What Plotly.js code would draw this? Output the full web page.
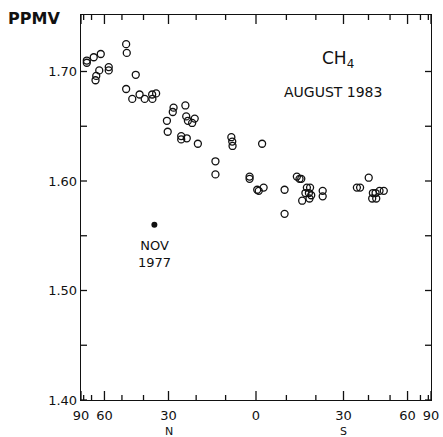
<!DOCTYPE html>
<html>
<head>
<meta charset="utf-8">
<script src="https://cdn.plot.ly/plotly-3.0.1.min.js"></script>
<style>
  html, body { margin: 0; padding: 0; background: #fff; }
  #chart { width: 443px; height: 437px; }
</style>
</head>
<body>
<div id="chart"></div>
<script>
// Methane mixing ratio by latitude, August 1983 (N positive, S negative)
const latitude = [75.2, 75.2, 68.0, 62.5, 63.6, 65.9, 66.5, 57.3, 57.3, 47.9,
  47.6, 43.4, 47.9, 45.0, 41.7, 39.5, 36.4, 34.8, 36.3, 30.6,
  30.3, 28.1, 28.4, 23.8, 23.5, 22.9, 20.5, 21.4, 25.3, 25.3,
  23.3, 19.4, 13.4, 13.4, 8.1, 7.8, 7.7, -2.0, 2.1, 2.1,
  -0.4, -0.9, -2.5, -9.4, -9.4, -13.5, -14.4, -15.0, -16.9, -18.0,
  -16.4, -17.6, -18.4, -15.3, -17.8, -22.4, -22.4, -35.2, -36.5, -40.1,
  -41.9, -43.1, -41.6, -43.4, -44.9, -46.9];
const ppmv = [1.710, 1.708, 1.713, 1.716, 1.701, 1.696, 1.692, 1.704, 1.701, 1.725,
  1.717, 1.697, 1.684, 1.675, 1.679, 1.675, 1.679, 1.680, 1.675, 1.655,
  1.645, 1.667, 1.663, 1.669, 1.659, 1.655, 1.657, 1.653, 1.641, 1.638,
  1.639, 1.634, 1.618, 1.606, 1.640, 1.636, 1.632, 1.634, 1.604, 1.602,
  1.592, 1.591, 1.594, 1.592, 1.570, 1.604, 1.602, 1.602, 1.594, 1.594,
  1.589, 1.589, 1.587, 1.582, 1.584, 1.591, 1.586, 1.594, 1.594, 1.603,
  1.589, 1.589, 1.584, 1.584, 1.591, 1.591];

// Earlier single measurement, November 1977
const latitude1977 = [35.5];
const ppmv1977 = [1.560];

// Latitude ticks (axis is linear in sine of latitude)
const majorLat = [90, 60, 30, 0, -30, -60, -90];
const majorLabels = ['90', '60', '30', '0', '30', '60', '90'];
const minorLat = [80, 70, 50, 40, 20, 10, -10, -20, -40, -50, -70, -80];
const ppmvTicks = [1.40, 1.50, 1.60, 1.70];
const ppmvMinor = [1.45, 1.55, 1.65];

const toX = lat => Math.sin(lat * Math.PI / 180);
const ink = '#111111';
const fam = 'DejaVu Sans, sans-serif';
const font = { family: fam, size: 13, color: ink };

const traces = [
  {
    x: latitude.map(toX), y: ppmv, type: 'scatter', mode: 'markers',
    marker: { symbol: 'circle-open', size: 7, color: ink, line: { width: 1.3, color: ink } },
    hoverinfo: 'skip'
  },
  {
    x: latitude1977.map(toX), y: ppmv1977, type: 'scatter', mode: 'markers',
    marker: { symbol: 'circle', size: 6, color: ink },
    hoverinfo: 'skip'
  }
];

// Inward tick marks on all four sides of the frame, sized in pixels
const tickLine = { color: ink, width: 1.3 };
function xTicks(lats, len) {
  const out = [];
  lats.forEach(lat => {
    const x = toX(lat);
    out.push({ type: 'line', xref: 'x', yref: 'paper', ysizemode: 'pixel', yanchor: 0,
      x0: x, x1: x, y0: 0, y1: len, line: tickLine });
    out.push({ type: 'line', xref: 'x', yref: 'paper', ysizemode: 'pixel', yanchor: 1,
      x0: x, x1: x, y0: 0, y1: -len, line: tickLine });
  });
  return out;
}
function yTicks(vals, len) {
  const out = [];
  vals.forEach(v => {
    out.push({ type: 'line', xref: 'paper', yref: 'y', xsizemode: 'pixel', xanchor: 0,
      x0: 0, x1: len, y0: v, y1: v, line: tickLine });
    out.push({ type: 'line', xref: 'paper', yref: 'y', xsizemode: 'pixel', xanchor: 1,
      x0: 0, x1: -len, y0: v, y1: v, line: tickLine });
  });
  return out;
}
const shapes = [].concat(
  xTicks(majorLat, 9), xTicks(minorLat, 5),
  yTicks(ppmvTicks, 6), yTicks(ppmvMinor, 6)
);

const layout = {
  width: 443, height: 437,
  margin: { l: 81, r: 12, t: 15, b: 37 },
  paper_bgcolor: '#ffffff', plot_bgcolor: '#ffffff',
  showlegend: false,
  font: font,
  xaxis: {
    range: [1, -1], showgrid: false, zeroline: false,
    showline: true, linecolor: ink, linewidth: 1.3, mirror: true,
    ticks: '', tickmode: 'array', tickvals: majorLat.map(toX), ticktext: majorLabels,
    ticklabelstandoff: 3, tickfont: font
  },
  yaxis: {
    range: [1.40, 1.7516], showgrid: false, zeroline: false,
    showline: true, linecolor: ink, linewidth: 1.3, mirror: true,
    ticks: '', tickmode: 'array', tickvals: ppmvTicks, ticktext: ppmvTicks.map(v => v.toFixed(2)),
    ticksuffix: '  ', tickfont: font
  },
  shapes: shapes,
  annotations: [
    { text: '<b>PPMV</b>', xref: 'paper', yref: 'paper', x: -0.215, y: 0.992, xanchor: 'left', yanchor: 'middle',
      showarrow: false, font: { family: fam, size: 16, color: ink } },
    { text: 'CH<sub>4</sub>', xref: 'paper', yref: 'paper', x: 0.735, y: 0.884, xanchor: 'center', yanchor: 'middle',
      showarrow: false, font: { family: fam, size: 17, color: ink } },
    { text: 'AUGUST 1983', xref: 'paper', yref: 'paper', x: 0.72, y: 0.80, xanchor: 'center', yanchor: 'middle',
      showarrow: false, font: { family: fam, size: 14, color: ink } },
    { text: 'NOV<br>1977', xref: 'x', yref: 'y', x: toX(latitude1977[0]), y: ppmv1977[0] - 0.027, xanchor: 'center', yanchor: 'middle',
      showarrow: false, align: 'center', font: { family: fam, size: 13, color: ink } },
    { text: 'N', xref: 'x', yref: 'paper', x: toX(30), y: -0.081, xanchor: 'center', yanchor: 'middle',
      showarrow: false, font: { family: fam, size: 11, color: ink } },
    { text: 'S', xref: 'x', yref: 'paper', x: toX(-30), y: -0.081, xanchor: 'center', yanchor: 'middle',
      showarrow: false, font: { family: fam, size: 11, color: ink } }
  ]
};

Plotly.newPlot('chart', traces, layout, { displayModeBar: false, staticPlot: true });
</script>
</body>
</html>
